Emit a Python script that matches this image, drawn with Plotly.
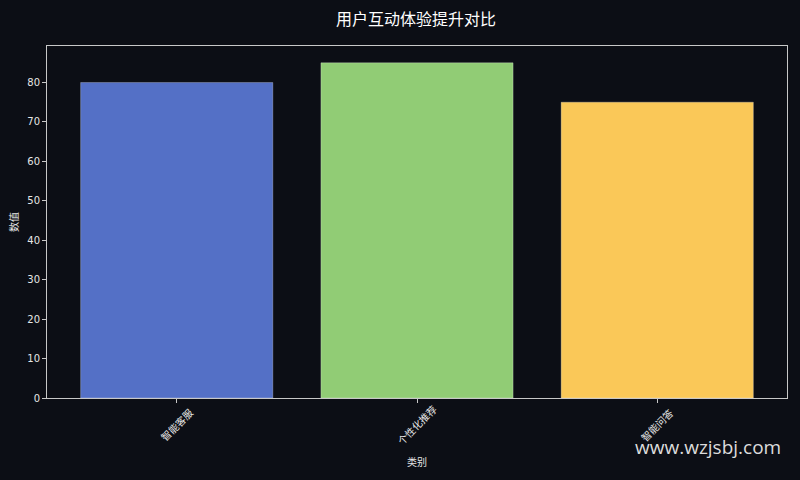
import plotly.graph_objects as go

categories = ["智能客服", "个性化推荐", "智能问答"]
values = [80, 85, 75]
colors = ["#5470c6", "#91cc75", "#fac858"]

BG = "#0c0e15"
FG = "#e6e6e6"
FONT = "DejaVu Sans, Noto Sans CJK SC, sans-serif"

fig = go.Figure(
    go.Bar(
        x=categories,
        y=values,
        width=0.8,
        marker=dict(color=colors, line=dict(color="rgba(255,255,255,0.25)", width=1)),
        hoverinfo="x+y",
    )
)

fig.update_layout(
    width=800,
    height=480,
    paper_bgcolor=BG,
    plot_bgcolor=BG,
    margin=dict(l=47, r=13, t=46, b=82),
    font=dict(family=FONT, color=FG, size=10),
    title=dict(
        text="用户互动体验提升对比",
        x=0.52,
        xanchor="center",
        y=0.96,
        yanchor="middle",
        font=dict(size=16, color="#ffffff"),
    ),
    showlegend=False,
    bargap=0.2,
)

fig.update_xaxes(
    range=[-0.54, 2.54],
    showgrid=False,
    zeroline=False,
    showline=True,
    linecolor="#c8c8c8",
    linewidth=1,
    mirror=True,
    ticks="outside",
    ticklen=4,
    tickcolor="#c8c8c8",
    showticklabels=False,
    title=dict(text="类别", font=dict(size=10, color=FG), standoff=56),
)

fig.update_yaxes(
    range=[0, 89.25],
    dtick=10,
    showgrid=False,
    zeroline=False,
    showline=True,
    linecolor="#c8c8c8",
    linewidth=1,
    mirror=True,
    ticks="outside",
    ticklen=4,
    tickcolor="#c8c8c8",
    tickfont=dict(size=10, color=FG),
    title=dict(text="数值", font=dict(size=10, color=FG), standoff=6),
)

# category labels rotated 45 degrees, centred under each tick
for cat in categories:
    fig.add_annotation(
        text=cat,
        x=cat,
        xref="x",
        y=0,
        yref="paper",
        yshift=-27,
        xanchor="center",
        yanchor="middle",
        textangle=-45,
        showarrow=False,
        font=dict(size=10, color=FG),
    )

fig.add_annotation(
    text="www.wzjsbj.com",
    xref="paper",
    yref="paper",
    x=0.995,
    y=-0.14,
    xanchor="right",
    yanchor="middle",
    showarrow=False,
    font=dict(size=19, color="#dcdcdc", family="Open Sans, DejaVu Sans, sans-serif"),
)

fig.write_html(
    "out.html",
    config={"displayModeBar": False},
    post_script="document.body.style.margin='0';",
)
